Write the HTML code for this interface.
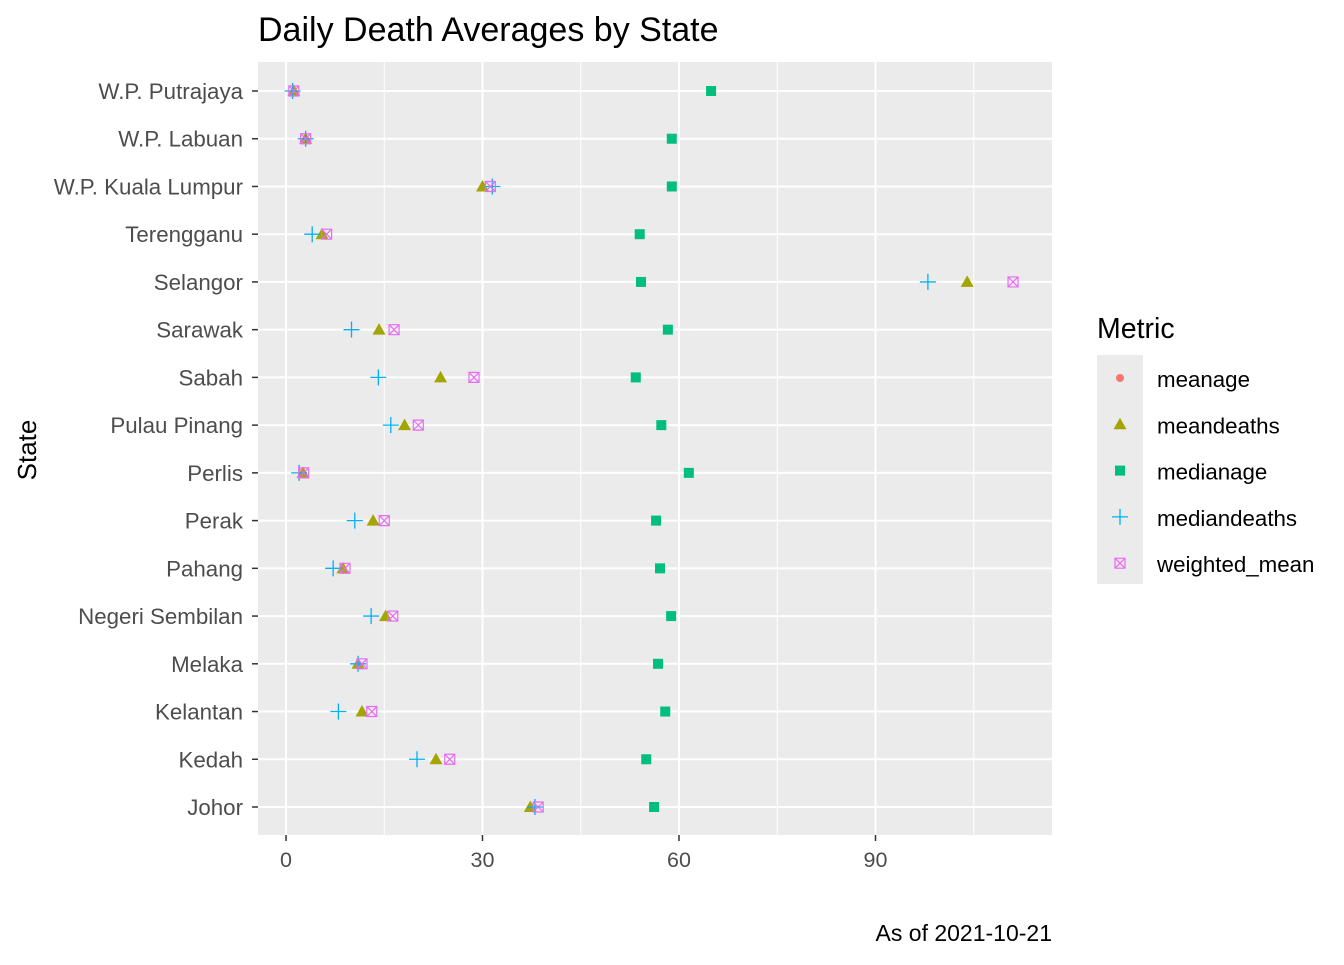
<!DOCTYPE html>
<html><head><meta charset="utf-8"><style>
body{margin:0;background:#fff;font-family:"Liberation Sans",Arial,sans-serif}
</style></head><body>
<svg id="chart" width="1344" height="960" xmlns="http://www.w3.org/2000/svg" font-family="Liberation Sans, Arial, sans-serif">
<text x="258" y="41" font-size="34" fill="#000">Daily Death Averages by State</text>
<rect x="258" y="62" width="794" height="773" fill="#ebebeb"/>
<g id="grid"></g><g id="axes"></g><g id="marks"></g>
<text transform="translate(36,450) rotate(-90)" text-anchor="middle" font-size="26" fill="#000">State</text>
<text x="1052" y="941" text-anchor="end" font-size="23" fill="#000">As of 2021-10-21</text>
<g id="legend">
<text x="1097" y="338" font-size="28.5" fill="#000">Metric</text>
<rect x="1097" y="355" width="46" height="229" fill="#ebebeb"/>
</g>
</svg>
<script>
const states=["Johor","Kedah","Kelantan","Melaka","Negeri Sembilan","Pahang","Perak","Perlis","Pulau Pinang","Sabah","Sarawak","Selangor","Terengganu","W.P. Kuala Lumpur","W.P. Labuan","W.P. Putrajaya"];
const medianage=[56.2,55.0,57.9,56.8,58.8,57.1,56.5,61.5,57.3,53.4,58.3,54.2,54.0,58.9,58.9,64.9];
const meanage=[56.2,55.0,57.9,56.8,58.8,57.1,56.5,61.5,57.3,53.4,58.3,54.2,54.0,58.9,58.9,64.9];
const meandeaths=[37.3,22.9,11.6,11.0,15.2,8.7,13.3,2.6,18.1,23.6,14.2,104,5.5,30.0,3.0,1.2];
const mediandeaths=[38,20,8,11,13,7.2,10.5,2,16,14.1,10,98,4,31.5,3,1];
const weightedmean=[38.5,25,13.1,11.6,16.3,9,15,2.7,20.2,28.7,16.5,111,6.2,31.2,3,1.2];
const xticks=[0,30,60,90];
const NS="http://www.w3.org/2000/svg";
const xs=v=>286+v*6.55;
const ys=i=>807-i*(716/15);
function mk(tag,attrs,parent){const e=document.createElementNS(NS,tag);for(const k in attrs)e.setAttribute(k,attrs[k]);parent.appendChild(e);return e;}
const grid=document.getElementById('grid'),axes=document.getElementById('axes'),marks=document.getElementById('marks'),legend=document.getElementById('legend');
[15,45,75,105].forEach(v=>{const l=mk('line',{x1:xs(v),x2:xs(v),y1:62,y2:835,stroke:'#fff','stroke-width':1},grid);

});
xticks.forEach(v=>{const l=mk('line',{x1:xs(v),x2:xs(v),y1:62,y2:835,stroke:'#fff','stroke-width':2},grid);


const t=mk('line',{x1:xs(v),x2:xs(v),y1:835,y2:841,stroke:'#333','stroke-width':1.5},axes);


const tx=mk('text',{x:xs(v),y:867,'text-anchor':'middle','font-size':21.5,fill:'#4d4d4d'},axes);tx.textContent=v;

});
states.forEach((s,i)=>{const y=ys(i);
const l=mk('line',{x1:258,x2:1052,y1:y,y2:y,stroke:'#fff','stroke-width':2},grid);


const t=mk('line',{x1:252,x2:258,y1:y,y2:y,stroke:'#333','stroke-width':1.5},axes);


const tx=mk('text',{x:243,y:y+8,'text-anchor':'end','font-size':22.3,fill:'#4d4d4d'},axes);tx.textContent=s;

});
function shape(kind,x,y,p){
 if(kind==='circle')return mk('circle',{cx:x,cy:y,r:4,fill:'#f8766d'},p);
 if(kind==='tri')return mk('polygon',{points:`${x},${y-6.5} ${x-6.5},${y+5} ${x+6.5},${y+5}`,fill:'#a3a500'},p);
 if(kind==='sq')return mk('rect',{x:x-5,y:y-5,width:10,height:10,fill:'#00bf7d'},p);
 if(kind==='plus')return mk('path',{d:`M${x-8},${y}H${x+8}M${x},${y-8}V${y+8}`,stroke:'#00b0f6','stroke-width':1.3,fill:'none'},p);
 return mk('path',{d:`M${x-5},${y-5}h10v10h-10zM${x-5},${y-5}L${x+5},${y+5}M${x+5},${y-5}L${x-5},${y+5}`,stroke:'#e76bf3','stroke-width':1.2,fill:'none'},p);
}
states.forEach((s,i)=>{const y=ys(i);let e;
e=shape('circle',xs(meanage[i]),y,marks);


e=shape('tri',xs(meandeaths[i]),y,marks);


e=shape('sq',xs(medianage[i]),y,marks);


e=shape('plus',xs(mediandeaths[i]),y,marks);


e=shape('x',xs(weightedmean[i]),y,marks);

});
const keys=[["circle","meanage"],["tri","meandeaths"],["sq","medianage"],["plus","mediandeaths"],["x","weighted_mean"]];
keys.forEach((k,i)=>{const y=378+i*46.3;
const e=shape(k[0],1120,y,legend);


const t=mk('text',{x:1157,y:y+9,'font-size':22.3,fill:'#000'},legend);t.textContent=k[1];

});
</script>
</body></html>
